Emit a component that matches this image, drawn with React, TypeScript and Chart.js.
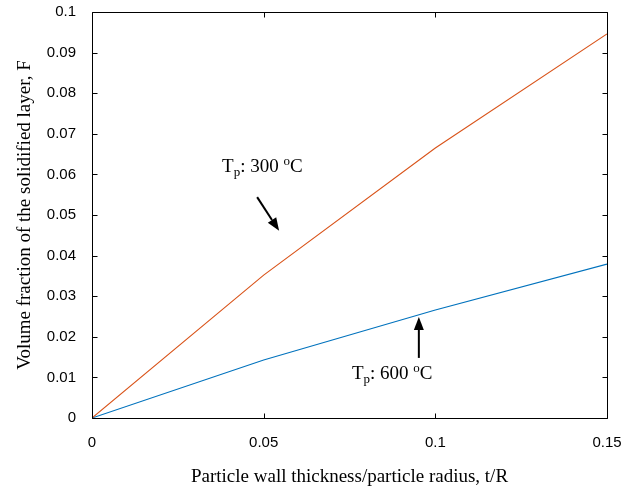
import React, { useEffect, useRef } from 'react';
import { Chart, registerables } from 'chart.js';
Chart.register(...registerables);

// ---- data ----
const thickness = [0, 0.05, 0.1, 0.15];
const fraction300 = [0, 0.0352, 0.0665, 0.0946];
const fraction600 = [0, 0.0143, 0.0266, 0.0379];

const xTickValues = [0, 0.05, 0.1, 0.15];
const xTickLabels = ['0', '0.05', '0.1', '0.15'];
const yTickValues = [0, 0.01, 0.02, 0.03, 0.04, 0.05, 0.06, 0.07, 0.08, 0.09, 0.1];
const yTickLabels = ['0', '0.01', '0.02', '0.03', '0.04', '0.05', '0.06', '0.07', '0.08', '0.09', '0.1'];

const xTitle = 'Particle wall thickness/particle radius, t/R';
const yTitle = 'Volume fraction of the solidified layer, F';

// annotation texts (T with subscript p, value, superscript o, C)
const note300 = { base: 'T', sub: 'p', mid: ': 300 ', sup: 'o', end: 'C' };
const note600 = { base: 'T', sub: 'p', mid: ': 600 ', sup: 'o', end: 'C' };
// annotation anchors in data coordinates (left baseline of text)
const note300At = { x: 0.0379, y: 0.0606 };
const note600At = { x: 0.0757, y: 0.0096 };
// arrows in data coordinates: tail -> tip
const arrow300 = { x0: 0.0481, y0: 0.0544, x1: 0.0545, y1: 0.0461 };
const arrow600 = { x0: 0.0952, y0: 0.0148, x1: 0.0952, y1: 0.0249 };

const ORANGE = '#D95319';
const BLUE = '#0072BD';
const SERIF = '"Liberation Serif", "Times New Roman", serif';
const SANS = '"Liberation Sans", Arial, sans-serif';

function drawNote(ctx: CanvasRenderingContext2D, note: typeof note300, x: number, y: number) {
  ctx.save();
  ctx.fillStyle = '#000';
  ctx.textBaseline = 'alphabetic';
  ctx.textAlign = 'left';
  let cx = x;
  ctx.font = `19px ${SERIF}`;
  ctx.fillText(note.base, cx, y);
  cx += ctx.measureText(note.base).width;
  ctx.font = `13px ${SERIF}`;
  ctx.fillText(note.sub, cx, y + 4);
  cx += ctx.measureText(note.sub).width;
  ctx.font = `19px ${SERIF}`;
  ctx.fillText(note.mid, cx, y);
  cx += ctx.measureText(note.mid).width;
  ctx.font = `13px ${SERIF}`;
  ctx.fillText(note.sup, cx, y - 7);
  cx += ctx.measureText(note.sup).width;
  ctx.font = `19px ${SERIF}`;
  ctx.fillText(note.end, cx, y);
  ctx.restore();
}

function drawArrow(ctx: CanvasRenderingContext2D, x0: number, y0: number, x1: number, y1: number) {
  const ang = Math.atan2(y1 - y0, x1 - x0);
  const headLen = 13;
  const headHalf = 5;
  const bx = x1 - headLen * Math.cos(ang);
  const by = y1 - headLen * Math.sin(ang);
  ctx.save();
  ctx.strokeStyle = '#000';
  ctx.fillStyle = '#000';
  ctx.lineWidth = 2;
  ctx.beginPath();
  ctx.moveTo(x0, y0);
  ctx.lineTo(bx, by);
  ctx.stroke();
  ctx.beginPath();
  ctx.moveTo(x1, y1);
  ctx.lineTo(bx + headHalf * Math.sin(ang), by - headHalf * Math.cos(ang));
  ctx.lineTo(bx - headHalf * Math.sin(ang), by + headHalf * Math.cos(ang));
  ctx.closePath();
  ctx.fill();
  ctx.restore();
}

const framePlugin = {
  id: 'frameAndNotes',
  afterDraw(chart: any) {
    const { ctx, chartArea: a, scales } = chart;
    const xs = scales.x;
    const ys = scales.y;
    ctx.save();
    ctx.strokeStyle = '#000';
    ctx.lineWidth = 1;
    const L = Math.round(a.left) + 0.5;
    const R = Math.round(a.right) + 0.5;
    const T = Math.round(a.top) + 0.5;
    const B = Math.round(a.bottom) + 0.5;
    ctx.beginPath();
    ctx.rect(L, T, R - L, B - T);
    ctx.stroke();
    const tl = 5;
    ctx.beginPath();
    for (const v of xTickValues) {
      const px = Math.round(xs.getPixelForValue(v)) + 0.5;
      ctx.moveTo(px, B);
      ctx.lineTo(px, B - tl);
      ctx.moveTo(px, T);
      ctx.lineTo(px, T + tl);
    }
    for (const v of yTickValues) {
      const py = Math.round(ys.getPixelForValue(v)) + 0.5;
      ctx.moveTo(L, py);
      ctx.lineTo(L + tl, py);
      ctx.moveTo(R, py);
      ctx.lineTo(R - tl, py);
    }
    ctx.stroke();
    ctx.restore();

    drawNote(ctx, note300, xs.getPixelForValue(note300At.x), ys.getPixelForValue(note300At.y));
    drawNote(ctx, note600, xs.getPixelForValue(note600At.x), ys.getPixelForValue(note600At.y));
    drawArrow(ctx, xs.getPixelForValue(arrow300.x0), ys.getPixelForValue(arrow300.y0),
      xs.getPixelForValue(arrow300.x1), ys.getPixelForValue(arrow300.y1));
    drawArrow(ctx, xs.getPixelForValue(arrow600.x0), ys.getPixelForValue(arrow600.y0),
      xs.getPixelForValue(arrow600.x1), ys.getPixelForValue(arrow600.y1));
  },
};

export default function App() {
  const ref = useRef<HTMLCanvasElement>(null);
  useEffect(() => {
    if (!ref.current) return;
    const chart = new Chart(ref.current, {
      type: 'line',
      data: {
        datasets: [
          {
            label: 'Tp 300',
            data: thickness.map((x, i) => ({ x, y: fraction300[i] })),
            borderColor: ORANGE,
            borderWidth: 1.1,
            pointRadius: 0,
            tension: 0,
            fill: false,
          },
          {
            label: 'Tp 600',
            data: thickness.map((x, i) => ({ x, y: fraction600[i] })),
            borderColor: BLUE,
            borderWidth: 1.1,
            pointRadius: 0,
            tension: 0,
            fill: false,
          },
        ],
      },
      options: {
        responsive: false,
        animation: false,
        events: [],
        layout: { padding: { top: 12, right: 27, left: 0, bottom: 0 } },
        plugins: {
          legend: { display: false },
          tooltip: { enabled: false },
          title: { display: false },
        },
        scales: {
          x: {
            type: 'linear',
            min: 0,
            max: 0.15,
            grid: { display: false },
            border: { display: false },
            afterBuildTicks: (s: any) => {
              s.ticks = xTickValues.map((v) => ({ value: v }));
            },
            afterFit: (s: any) => {
              s.height = 71;
              s.paddingLeft = 0;
              s.paddingRight = 0;
            },
            ticks: {
              autoSkip: false,
              maxRotation: 0,
              padding: 8,
              color: '#000',
              font: { family: SANS, size: 15 },
              callback: (_v: any, i: number) => xTickLabels[i],
            },
            title: {
              display: true,
              text: xTitle,
              color: '#000',
              font: { family: SERIF, size: 19 },
              padding: { top: 0, bottom: 1 },
            },
          },
          y: {
            type: 'linear',
            min: 0,
            max: 0.1,
            grid: { display: false },
            border: { display: false },
            afterBuildTicks: (s: any) => {
              s.ticks = yTickValues.map((v) => ({ value: v }));
            },
            afterFit: (s: any) => {
              s.width = 92;
              s.paddingTop = 0;
              s.paddingBottom = 0;
            },
            ticks: {
              autoSkip: false,
              padding: 8,
              color: '#000',
              font: { family: SANS, size: 15 },
              callback: (_v: any, i: number) => yTickLabels[i],
            },
            title: {
              display: true,
              text: yTitle,
              color: '#000',
              font: { family: SERIF, size: 19 },
              padding: { top: 14, bottom: 0 },
            },
          },
        },
      },
      plugins: [framePlugin],
    } as any);
    return () => chart.destroy();
  }, []);
  return (
    <div style={{ position: 'absolute', left: 0, top: 0, width: 634, height: 489, background: '#fff' }}>
      <canvas ref={ref} width={634} height={489} style={{ display: 'block' }} />
    </div>
  );
}
